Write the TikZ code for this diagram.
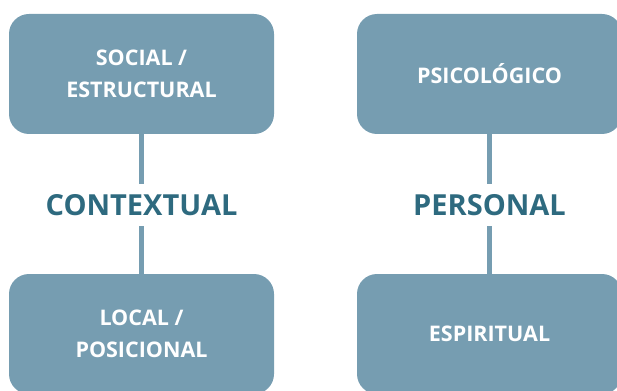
\documentclass[tikz,border=0pt]{standalone}
\usepackage{fontspec}
\setmainfont{Open Sans}
\definecolor{boxfill}{HTML}{769DB1}
\definecolor{labelink}{HTML}{2E6A7F}
\begin{document}
\begin{tikzpicture}[x=1pt,y=-1pt,
  catbox/.style={rectangle, rounded corners=20pt, fill=boxfill, draw=none,
    minimum width=265pt, minimum height=120pt, inner sep=0pt, align=center,
    text=white, font=\fontsize{21.5}{31.5}\selectfont\bfseries},
  grouplabel/.style={inner sep=0pt, minimum height=42pt, text=labelink,
    text height=20pt, text depth=0pt,
    font=\fontsize{29}{34}\selectfont\bfseries},
  link/.style={draw=boxfill, line width=5pt}]
  \useasboundingbox (0,0) rectangle (617,390);
  \clip (0,0) rectangle (617,390);
  % left column
  \node[catbox] (social) at (141.5,74) {SOCIAL /\\ESTRUCTURAL};
  \node[grouplabel] (ctx) at (141.5,205) {CONTEXTUAL};
  \node[catbox] (local) at (141.5,334) {LOCAL /\\POSICIONAL};
  % right column
  \node[catbox] (psico) at (489.5,74) {PSICOLÓGICO};
  \node[grouplabel] (pers) at (489.5,205) {PERSONAL};
  \node[catbox] (espi) at (489.5,334) {ESPIRITUAL};
  % connectors
  \draw[link] (social.south) -- (ctx.north);
  \draw[link] (ctx.south) -- (local.north);
  \draw[link] (psico.south) -- (pers.north);
  \draw[link] (pers.south) -- (espi.north);
\end{tikzpicture}
\end{document}
